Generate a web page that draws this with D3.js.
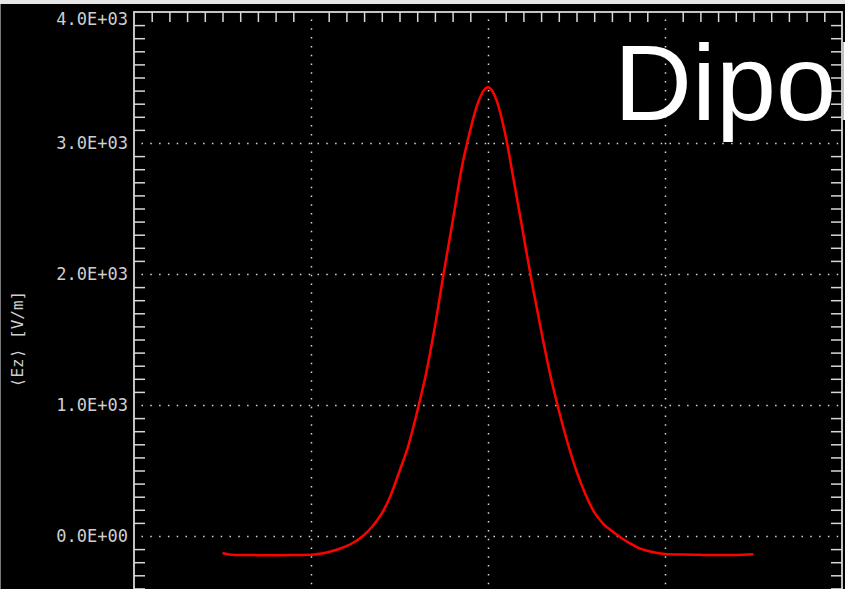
<!DOCTYPE html>
<html>
<head>
<meta charset="utf-8">
<script src="https://cdn.jsdelivr.net/npm/d3@7"></script>
<style>
  html, body { margin: 0; padding: 0; background: black; overflow: hidden; }
</style>
</head>
<body>
<div id="chart"></div>
<script>
// Ez profile along the dipole
const zValues = [-1.5, -1.45, -1.4, -1.3, -1.2, -1.1, -1.0, -0.95, -0.9, -0.85, -0.8, -0.75,
  -0.7, -0.65, -0.6, -0.55, -0.5, -0.45, -0.4, -0.35, -0.3, -0.25, -0.2, -0.15, -0.1, -0.075,
  -0.05, -0.025, 0, 0.025, 0.05, 0.075, 0.1, 0.15, 0.2, 0.25, 0.3, 0.35, 0.4, 0.45, 0.5, 0.55,
  0.6, 0.65, 0.7, 0.75, 0.8, 0.85, 0.9, 0.95, 1.0, 1.1, 1.2, 1.3, 1.4, 1.5]
const ezValues = [-130, -143, -145, -146, -146, -145, -143, -135, -122, -103, -78, -42,
  8, 78, 172, 310, 495, 690, 950, 1240, 1600, 2010, 2400, 2800, 3100, 3230,
  3330, 3400, 3425, 3395, 3320, 3200, 3050, 2680, 2300, 1920, 1570, 1240, 960, 710, 495, 320,
  182, 95, 38, -12, -55, -90, -113, -128, -137, -142, -144, -145, -145, -140]

// axis ticks and labels
const yMajorTicks = [0, 1000, 2000, 3000, 4000]
const yTickLabels = ['0.0E+00', '1.0E+03', '2.0E+03', '3.0E+03', '4.0E+03']
const xMajorTicks = [-1, 0, 1]
const yLabel = '\u27E8Ez\u27E9 [V/m]'
const title = 'Dipole'

const W = 845, H = 589
const frame = { left: 134, right: 842, top: 12 }
const fg = '#d8d8d8'

let svg = d3.select('#chart')
  .append('svg')
  .attr('width', W)
  .attr('height', H)
  .style('display', 'block')
  .style('background-color', 'black')

// scales (bottom of the plot runs off the picture)
let x = d3.scaleLinear().domain([-2, 2]).range([frame.left, frame.right])
let y = d3.scaleLinear().domain([0, 4000]).range([536, frame.top])

// minor tick positions, every 0.1 in z and every 100 in Ez, skipping the majors
const xMinor = d3.range(-20, 21).filter(i => i % 10 !== 0).map(i => i / 10)
const yMinor = d3.range(-10, 41).filter(i => i % 10 !== 0).map(i => i * 100)

// light strip at the top of the window
svg.append('rect')
  .attr('x', 0).attr('y', 0)
  .attr('width', W).attr('height', 4)
  .style('fill', '#e6e6e6')
svg.append('line')
  .attr('x1', 0.5).attr('x2', 0.5)
  .attr('y1', 4).attr('y2', H)
  .style('stroke', '#777')

// dotted grid
const dots = g => g.selectAll('.tick line')
  .style('stroke', fg)
  .style('stroke-width', 1.5)
  .style('stroke-dasharray', '1.5 7.3')
  .style('stroke-dashoffset', -7.5)

svg.append('g')
  .attr('transform', `translate(${frame.left},0)`)
  .call(d3.axisRight(y).tickValues(yMajorTicks.slice(0, 4)).tickSize(frame.right - frame.left).tickFormat(''))
  .call(g => g.select('.domain').remove())
  .call(dots)

svg.append('g')
  .attr('transform', `translate(0,${frame.top})`)
  .call(d3.axisBottom(x).tickValues(xMajorTicks).tickSize(H).tickFormat(''))
  .call(g => g.select('.domain').remove())
  .call(dots)

// minor ticks: left, right, top (all pointing inwards)
const tickStyle = g => {
  g.select('.domain').remove()
  g.selectAll('.tick line').style('stroke', fg).style('stroke-width', 1.5)
}

svg.append('g')
  .attr('transform', `translate(${frame.left},0)`)
  .call(d3.axisLeft(y).tickValues(yMinor).tickSize(-11).tickFormat(''))
  .call(tickStyle)

svg.append('g')
  .attr('transform', `translate(${frame.right},0)`)
  .call(d3.axisRight(y).tickValues(yMinor).tickSize(-11).tickFormat(''))
  .call(tickStyle)

svg.append('g')
  .attr('transform', `translate(0,${frame.top})`)
  .call(d3.axisTop(x).tickValues(xMinor).tickSize(-10).tickFormat(''))
  .call(tickStyle)

// frame
svg.append('rect')
  .attr('x', frame.left)
  .attr('y', frame.top)
  .attr('width', frame.right - frame.left)
  .attr('height', H + 50)
  .style('fill', 'none')
  .style('stroke', fg)
  .style('stroke-width', 1.8)

// y tick labels
let yLabels = svg.append('g')
  .attr('transform', `translate(${frame.left},0)`)
  .call(d3.axisLeft(y).tickValues(yMajorTicks).tickSize(0).tickPadding(6)
    .tickFormat((d, i) => yTickLabels[i]))
yLabels.select('.domain').remove()
yLabels.selectAll('text')
  .style('fill', '#cfcfcf')
  .style('font-family', 'DejaVu Sans Mono, monospace')
  .style('font-size', '17px')
  .attr('dy', d => d === 4000 ? '0.74em' : '0.32em')

// y axis title
svg.append('text')
  .attr('transform', `translate(23,339) rotate(-90)`)
  .text(yLabel)
  .style('fill', '#cfcfcf')
  .style('font-family', 'DejaVu Sans Mono, monospace')
  .style('font-size', '16px')
  .style('text-anchor', 'middle')

// the Ez curve
svg.append('path')
  .datum(zValues.map((z, i) => [z, ezValues[i]]))
  .attr('d', d3.line().curve(d3.curveMonotoneX).x(d => x(d[0])).y(d => y(d[1])))
  .style('fill', 'none')
  .style('stroke', '#ff0000')
  .style('stroke-width', 2.5)
  .style('stroke-linejoin', 'round')

// big title, running off the right edge
svg.append('text')
  .attr('x', 614)
  .attr('y', 120)
  .text(title)
  .style('fill', 'white')
  .style('font-family', 'Liberation Sans, Arial, sans-serif')
  .style('font-size', '108px')
</script>
</body>
</html>
